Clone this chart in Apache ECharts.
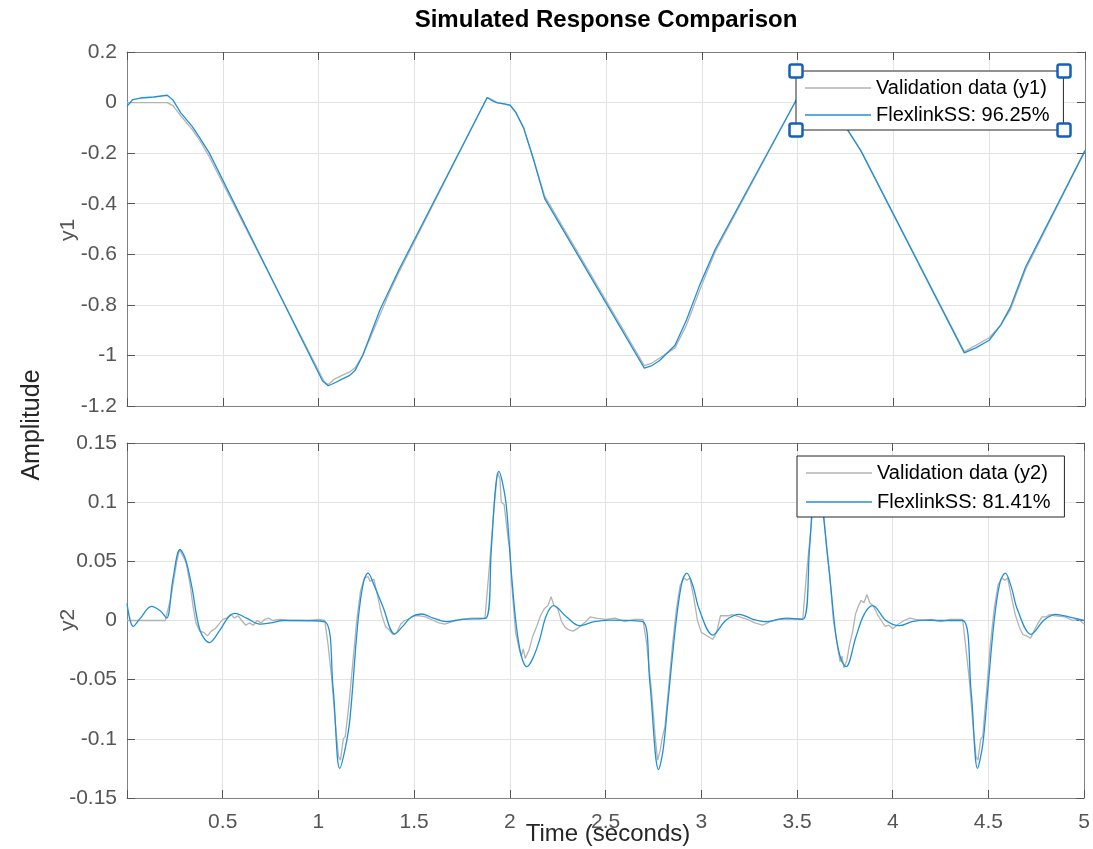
<!DOCTYPE html>
<html>
<head>
<meta charset="utf-8">
<title>Simulated Response Comparison</title>
<script src="https://cdn.jsdelivr.net/npm/echarts@6/dist/echarts.min.js"></script>
<style>
  html, body { margin: 0; padding: 0; background: #fff; }
  #main { width: 1093px; height: 849px; }
</style>
</head>
<body>
<div id="main"></div>
<script>
// y1 输出：测量值 (灰) 和 模型 (蓝)，[时间 s, 幅值]
var y1Validation = [
  [0, 0], [0.21, 0], [0.24, -0.012], [0.28, -0.052], [0.34, -0.106], [0.38, -0.15], [0.43, -0.215],
  [1.03, -1.105], [1.05, -1.115], [1.08, -1.095], [1.12, -1.08], [1.16, -1.066], [1.19, -1.05],
  [1.23, -1.0], [1.27, -0.93], [1.32, -0.84], [1.37, -0.75], [1.42, -0.67],
  [1.88, 0.02], [1.9, 0.014], [1.93, 0.0], [1.97, -0.006], [2.0, -0.012], [2.03, -0.04],
  [2.07, -0.1], [2.12, -0.22], [2.18, -0.37],
  [2.7, -1.04], [2.74, -1.03], [2.78, -1.01], [2.86, -0.97], [2.92, -0.88], [2.99, -0.74], [3.07, -0.59],
  [3.5, 0.02], [3.53, 0.014], [3.57, 0.0], [3.62, -0.012], [3.66, -0.04], [3.76, -0.107], [3.83, -0.19],
  [4.37, -0.985], [4.43, -0.96], [4.5, -0.93], [4.56, -0.88], [4.61, -0.82], [4.69, -0.66], [5.0, -0.19]
];
var y1Model = [
  [0, -0.015], [0.03, 0.012], [0.07, 0.018], [0.14, 0.022], [0.21, 0.029], [0.24, 0.01], [0.28, -0.04],
  [0.34, -0.094], [0.38, -0.14], [0.43, -0.2],
  [1.02, -1.1], [1.05, -1.12], [1.08, -1.11], [1.12, -1.095], [1.16, -1.08], [1.19, -1.06],
  [1.23, -1.0], [1.27, -0.92], [1.32, -0.82], [1.37, -0.74], [1.42, -0.66],
  [1.88, 0.02], [1.9, 0.01], [1.93, 0.0], [1.97, -0.005], [2.0, -0.01], [2.03, -0.04],
  [2.07, -0.1], [2.12, -0.22], [2.18, -0.38],
  [2.7, -1.05], [2.74, -1.04], [2.78, -1.02], [2.86, -0.96], [2.92, -0.86], [2.99, -0.72], [3.07, -0.58],
  [3.5, 0.02], [3.53, 0.015], [3.57, 0.0], [3.62, -0.01], [3.66, -0.04], [3.76, -0.107], [3.83, -0.19],
  [4.37, -0.99], [4.43, -0.97], [4.5, -0.94], [4.56, -0.88], [4.61, -0.81], [4.69, -0.65], [5.0, -0.19]
];

// y2 输出
var y2Validation = [
  [0, 0], [0.2, 0], [0.207, 0.001], [0.23, 0.02], [0.245, 0.035], [0.26, 0.05], [0.275, 0.06],
  [0.29, 0.055], [0.3, 0.052], [0.31, 0.048], [0.33, 0.03], [0.345, 0.012], [0.36, -0.002],
  [0.38, -0.009], [0.4, -0.01], [0.42, -0.013], [0.44, -0.009], [0.46, -0.007], [0.48, -0.003],
  [0.5, 0.001], [0.52, 0.002], [0.545, 0.005], [0.56, 0.002], [0.58, 0.004], [0.6, 0.0],
  [0.62, -0.004], [0.64, -0.002], [0.66, -0.004], [0.68, 0.0], [0.7, -0.002], [0.72, 0.001],
  [0.74, 0.002], [0.76, 0.0], [0.8, 0.001], [0.85, 0.0], [0.9, 0.0], [0.95, 0.0], [1.0, 0.001],
  [1.033, 0.0], [1.05, -0.02], [1.07, -0.05], [1.09, -0.09], [1.105, -0.115], [1.115, -0.118],
  [1.13, -0.1], [1.14, -0.098], [1.16, -0.07], [1.18, -0.035], [1.2, 0.0], [1.22, 0.025],
  [1.24, 0.036], [1.26, 0.037], [1.27, 0.033], [1.29, 0.035], [1.31, 0.02], [1.33, 0.005],
  [1.35, -0.005], [1.37, -0.008], [1.39, -0.012], [1.41, -0.01], [1.43, -0.003], [1.45, 0.0],
  [1.47, 0.001], [1.5, 0.004], [1.53, 0.004], [1.56, 0.003], [1.6, 0.0], [1.63, -0.002],
  [1.66, -0.003], [1.7, -0.001], [1.75, 0.001], [1.8, 0.002], [1.87, 0.002], [1.89, 0.04],
  [1.905, 0.07], [1.92, 0.1], [1.935, 0.125], [1.948, 0.12], [1.955, 0.1], [1.97, 0.098],
  [1.99, 0.07], [2.0, 0.06], [2.01, 0.03], [2.03, -0.01], [2.05, -0.025], [2.06, -0.03],
  [2.07, -0.024], [2.08, -0.032], [2.1, -0.025], [2.12, -0.013], [2.14, -0.005], [2.16, 0.004],
  [2.18, 0.01], [2.2, 0.013], [2.215, 0.02], [2.23, 0.013], [2.25, 0.01], [2.27, -0.001],
  [2.29, -0.006], [2.31, -0.008], [2.33, -0.009], [2.36, -0.006], [2.39, -0.002], [2.42, 0.003],
  [2.45, 0.002], [2.5, 0.001], [2.55, 0.002], [2.6, -0.001], [2.65, 0.001], [2.695, 0.001],
  [2.715, -0.02], [2.74, -0.06], [2.76, -0.1], [2.772, -0.118], [2.785, -0.11], [2.795, -0.1],
  [2.81, -0.09], [2.83, -0.055], [2.85, -0.02], [2.87, 0.01], [2.89, 0.03], [2.91, 0.036],
  [2.925, 0.034], [2.94, 0.036], [2.96, 0.02], [2.98, 0.0], [3.0, -0.01], [3.02, -0.012],
  [3.04, -0.014], [3.06, -0.016], [3.08, -0.01], [3.1, 0.004], [3.12, 0.004], [3.14, 0.004],
  [3.16, 0.005], [3.2, 0.003], [3.24, 0.001], [3.28, -0.002], [3.32, -0.004], [3.36, -0.001],
  [3.4, 0.001], [3.45, 0.001], [3.53, 0.001], [3.55, 0.04], [3.565, 0.065], [3.6, 0.125],
  [3.62, 0.11], [3.64, 0.09], [3.655, 0.06], [3.67, 0.04], [3.69, 0.0], [3.71, -0.02],
  [3.725, -0.035], [3.735, -0.03], [3.745, -0.04], [3.76, -0.034], [3.775, -0.02], [3.79, -0.01],
  [3.805, 0.005], [3.82, 0.012], [3.835, 0.017], [3.85, 0.015], [3.865, 0.022], [3.88, 0.015],
  [3.9, 0.012], [3.92, 0.005], [3.94, 0.0], [3.96, -0.005], [3.98, -0.004], [4.0, -0.007],
  [4.03, -0.003], [4.06, 0.0], [4.09, 0.002], [4.12, 0.001], [4.16, 0.0], [4.2, 0.001],
  [4.25, -0.001], [4.3, 0.001], [4.365, 0.001], [4.38, -0.02], [4.4, -0.05], [4.42, -0.09],
  [4.435, -0.115], [4.445, -0.118], [4.46, -0.1], [4.47, -0.098], [4.49, -0.06], [4.51, -0.02],
  [4.53, 0.01], [4.55, 0.03], [4.57, 0.036], [4.585, 0.034], [4.6, 0.036], [4.62, 0.02],
  [4.64, 0.005], [4.66, -0.005], [4.68, -0.012], [4.7, -0.013], [4.72, -0.015], [4.74, -0.008],
  [4.76, -0.002], [4.78, 0.003], [4.8, 0.003], [4.82, 0.005], [4.85, 0.004], [4.9, 0.003],
  [4.94, 0.0], [4.97, 0.001], [5.0, -0.003]
];
var y2Model = [
  [0, 0.0145], [0.033, -0.005], [0.07, 0.002], [0.128, 0.012], [0.175, 0.008], [0.207, 0.002],
  [0.24, 0.035], [0.277, 0.06], [0.305, 0.052], [0.338, 0.029], [0.381, -0.008], [0.43, -0.0187],
  [0.486, -0.008], [0.53, 0.003], [0.564, 0.006], [0.625, 0.002], [0.694, -0.003], [0.75, -0.002],
  [0.816, 0], [0.9, 0], [1.033, -0.001], [1.076, -0.056], [1.111, -0.125], [1.14, -0.108],
  [1.164, -0.084], [1.207, 0], [1.235, 0.032], [1.259, 0.04], [1.29, 0.03], [1.337, 0.0117],
  [1.398, -0.0114], [1.44, -0.005], [1.485, 0.003], [1.538, 0.0055], [1.6, 0.002], [1.668, -0.001],
  [1.75, 0.001], [1.876, 0.002], [1.903, 0.06], [1.925, 0.112], [1.943, 0.126], [1.962, 0.116],
  [1.982, 0.096], [2.008, 0.04], [2.034, -0.005], [2.06, -0.03], [2.089, -0.039], [2.12, -0.032],
  [2.155, -0.0165], [2.19, 0.004], [2.229, 0.0125], [2.295, 0.0032], [2.364, -0.0044], [2.44, -0.001],
  [2.521, 0.0004], [2.695, -0.001], [2.73, -0.05], [2.777, -0.126], [2.8, -0.11], [2.825, -0.07],
  [2.869, 0], [2.9, 0.033], [2.924, 0.04], [2.955, 0.03], [2.99, 0.009], [3.06, -0.0123],
  [3.13, 0.0004], [3.199, 0.0052], [3.27, 0.001], [3.339, -0.001], [3.443, 0.002], [3.53, 0.001],
  [3.565, 0.06], [3.587, 0.112], [3.605, 0.126], [3.62, 0.116], [3.636, 0.092], [3.678, 0.026],
  [3.704, -0.0137], [3.73, -0.033], [3.756, -0.039], [3.808, -0.0137], [3.85, 0.005], [3.895, 0.0125],
  [3.965, 0], [4.034, -0.0044], [4.1, -0.001], [4.156, 0.0004], [4.25, 0], [4.365, 0],
  [4.409, -0.059], [4.443, -0.125], [4.47, -0.105], [4.495, -0.0615], [4.53, 0], [4.56, 0.032],
  [4.588, 0.04], [4.62, 0.028], [4.652, 0.009], [4.722, -0.0117], [4.791, 0.0004], [4.852, 0.0052],
  [4.92, 0.003], [5.0, 0.0]
];

var names = ['Validation data (y1)', 'FlexlinkSS: 96.25%', 'Validation data (y2)', 'FlexlinkSS: 81.41%'];
var xTicks = {min: 0, max: 5, interval: 0.5};
var y1Ticks = {min: -1.2, max: 0.2, interval: 0.2};
var y2Ticks = {min: -0.15, max: 0.15, interval: 0.05};

var grayColor = '#b3b3b3';
var blueColor = '#2090d6';
var axisColor = '#808080';
var labelColor = '#555555';
var fontName = '"Liberation Sans", Arial, Helvetica, sans-serif';

function fmt(v) {
    return String(+v.toFixed(2));
}

// 坐标轴（带上/右边框刻度，仿 MATLAB box on）
function xAxisCfg(grid, pos, showLabel) {
    return {
        type: 'value', gridIndex: grid, position: pos,
        min: xTicks.min, max: xTicks.max, interval: xTicks.interval,
        axisLine: {show: true, onZero: false, lineStyle: {color: axisColor, width: 1}},
        axisTick: {show: true, inside: true, length: 8, lineStyle: {color: '#555'}},
        axisLabel: {
            show: showLabel, color: labelColor, fontSize: 21, fontFamily: fontName, margin: 14,
            formatter: function (v) { return v === 0 ? '' : fmt(v); }
        },
        splitLine: {show: pos === 'bottom', lineStyle: {color: '#e3e3e3', width: 1}}
    };
}
function yAxisCfg(grid, pos, t) {
    return {
        type: 'value', gridIndex: grid, position: pos,
        min: t.min, max: t.max, interval: t.interval,
        axisLine: {show: true, onZero: false, lineStyle: {color: axisColor, width: 1}},
        axisTick: {show: true, inside: true, length: 8, lineStyle: {color: '#555'}},
        axisLabel: {
            show: pos === 'left', color: labelColor, fontSize: 21, fontFamily: fontName, margin: 10,
            formatter: fmt
        },
        splitLine: {show: pos === 'left', lineStyle: {color: '#e3e3e3', width: 1}}
    };
}

function lineSeries(name, data, color, xi, yi) {
    return {
        name: name, type: 'line', data: data,
        xAxisIndex: xi, yAxisIndex: yi,
        showSymbol: false, symbol: 'none', silent: true, animation: false,
        lineStyle: {color: color, width: 1.3},
        itemStyle: {color: color}
    };
}

function legendCfg(data, left, top, gap) {
    return {
        data: data.map(function (n) { return {name: n, icon: 'rect'}; }),
        orient: 'vertical', left: left, top: top,
        itemWidth: 66, itemHeight: 1.5, itemGap: gap,
        padding: [5, 14, 3, 9],
        backgroundColor: '#fff', borderColor: '#262626', borderWidth: 1, borderRadius: 0,
        selectedMode: false,
        textStyle: {color: '#000', fontSize: 20, fontFamily: fontName, lineHeight: 24}
    };
}

// 选中图例时的蓝色控制点
var handles = [[796, 71], [1064, 71], [796, 130], [1064, 130]].map(function (p) {
    return {
        type: 'rect', z: 100,
        shape: {x: p[0] - 6.5, y: p[1] - 6.5, width: 13, height: 13, r: 2},
        style: {fill: '#fff', stroke: '#1560b8', lineWidth: 2.5}
    };
});

var texts = [
    {type: 'text', x: 606, y: 20, style: {text: 'Simulated Response Comparison', font: 'bold 24px ' + fontName, fill: '#000', textAlign: 'center', textVerticalAlign: 'middle'}},
    {type: 'text', x: 32, y: 425, rotation: Math.PI / 2, style: {text: 'Amplitude', font: '25px ' + fontName, fill: '#262626', textAlign: 'center', textVerticalAlign: 'middle'}},
    {type: 'text', x: 68, y: 230, rotation: Math.PI / 2, style: {text: 'y1', font: '21px ' + fontName, fill: labelColor, textAlign: 'center', textVerticalAlign: 'middle'}},
    {type: 'text', x: 68, y: 620, rotation: Math.PI / 2, style: {text: 'y2', font: '21px ' + fontName, fill: labelColor, textAlign: 'center', textVerticalAlign: 'middle'}},
    {type: 'text', x: 608, y: 834, style: {text: 'Time (seconds)', font: '24px ' + fontName, fill: '#262626', textAlign: 'center', textVerticalAlign: 'middle'}}
];

var myChart = echarts.init(document.getElementById('main'), null, {renderer: 'canvas'});
var option = {
    backgroundColor: '#fff',
    animation: false,
    grid: [
        {left: 127, top: 52, width: 958, height: 354, containLabel: false},
        {left: 127, top: 443, width: 958, height: 355, containLabel: false}
    ],
    xAxis: [
        xAxisCfg(0, 'bottom', false), xAxisCfg(0, 'top', false),
        xAxisCfg(1, 'bottom', true), xAxisCfg(1, 'top', false)
    ],
    yAxis: [
        yAxisCfg(0, 'left', y1Ticks), yAxisCfg(0, 'right', y1Ticks),
        yAxisCfg(1, 'left', y2Ticks), yAxisCfg(1, 'right', y2Ticks)
    ],
    legend: [
        legendCfg([names[0], names[1]], 796, 71, 3),
        legendCfg([names[2], names[3]], 797, 456, 5)
    ],
    series: [
        lineSeries(names[0], y1Validation, grayColor, 0, 0),
        lineSeries(names[1], y1Model, blueColor, 0, 0),
        lineSeries(names[2], y2Validation, grayColor, 2, 2),
        Object.assign(lineSeries(names[3], y2Model, blueColor, 2, 2), {smooth: 0.35})
    ],
    graphic: texts.concat(handles)
};
myChart.setOption(option);

window.addEventListener('resize', function () {
    myChart.resize();
});
</script>
</body>
</html>
